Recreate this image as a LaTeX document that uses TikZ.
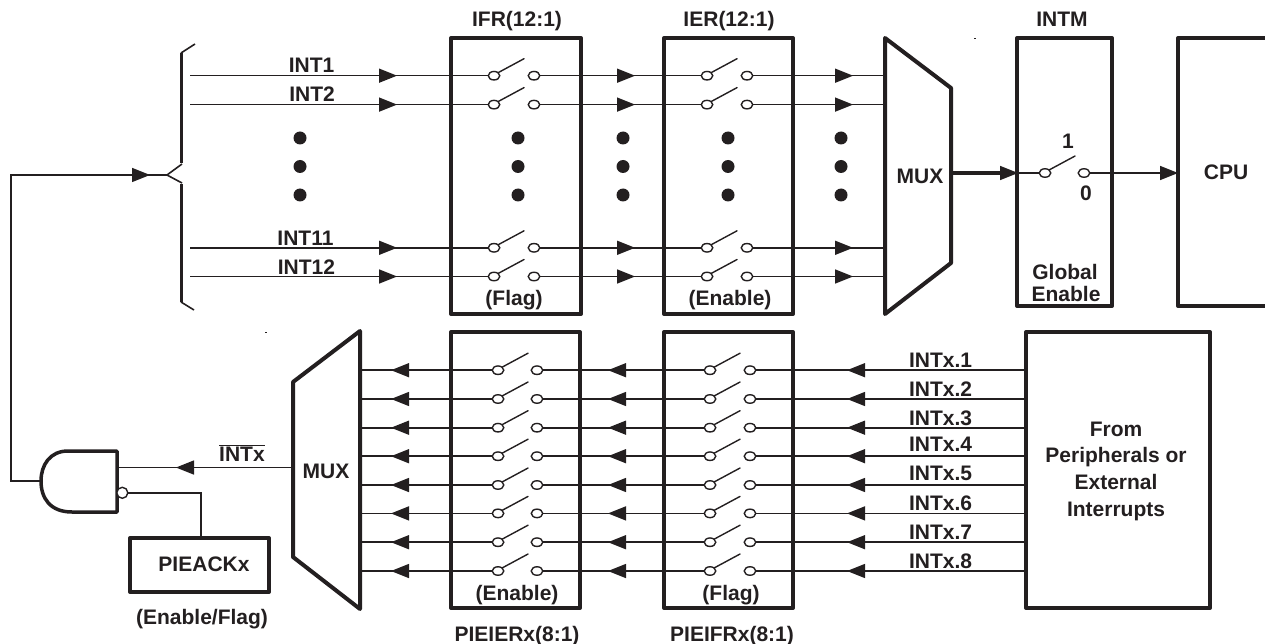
\documentclass[tikz,border=0pt]{standalone}
\usepackage{fontspec}
\setmainfont{Liberation Sans}
\usetikzlibrary{shapes.geometric}
\definecolor{ink}{HTML}{231F20}
\tikzset{
  lbl/.style={anchor=base,inner sep=0pt,outer sep=0pt,text=ink,font=\bfseries\fontsize{21}{24}\selectfont},
  boxnode/.style={draw=ink,line width=4pt,line join=round,inner sep=0pt,outer sep=0pt},
  heavy/.style={draw=ink,line width=4pt,line join=round},
  thinline/.style={draw=ink,line width=1.6pt},
  medline/.style={draw=ink,line width=3pt},
  contact/.style={ellipse,draw=ink,line width=1.4pt,fill=white,minimum width=11.5pt,minimum height=8.5pt,inner sep=0pt,outer sep=0pt},
  lever/.style={draw=ink,line width=1.4pt,line cap=round},
  dotmark/.style={circle,fill=ink,minimum size=13pt,inner sep=0pt,outer sep=0pt}
}
\newcommand{\tipright}[2]{\fill[ink] (#1,#2-7.2) -- (#1+18,#2) -- (#1,#2+7.2) -- cycle;}
\newcommand{\tipleft}[2]{\fill[ink] (#1+18,#2-7.2) -- (#1,#2) -- (#1+18,#2+7.2) -- cycle;}
\newcommand{\boxat}[5]{\node[boxnode,minimum width=#4-#2,minimum height=#5-#3,anchor=north west] (#1) at (#2,#3) {};}
\begin{document}
\begin{tikzpicture}[x=1pt,y=-1pt]
\useasboundingbox (0,0) rectangle (1265,644);
% === boxes ===
\boxat{ifr}{451}{38}{581}{314}
\boxat{ier}{664}{38}{793}{314}
\boxat{intm}{1017}{38}{1112}{306}
\boxat{pieier}{451}{332}{580}{608}
\boxat{pieifr}{664}{332}{793}{608}
\boxat{periph}{1026}{332}{1210}{608}
\boxat{pieack}{130}{538}{269}{592}
% CPU box runs off the right edge
\coordinate (cputl) at (1265,38);
\coordinate (cpubr) at (1265,306);
\coordinate (cpuin) at (1178,173);
\draw[heavy] (cputl) -- (1178,38) -- (1178,306) -- (cpubr);
% muxes
\draw[heavy] (885,38) -- (951,88) -- (951,263) -- (885,314) -- cycle;
\draw[heavy] (360,331) -- (293,382) -- (293,557) -- (360,609) -- cycle;
% === upper switch rows ===
\foreach \n/\y in {a/75.7,b/104.6,c/247.8,d/276.5}{
  \coordinate (us\n) at (190,\y);
  \coordinate (um\n) at (885,\y);
  \node[contact] (ul\n) at (494,\y) {};
  \node[contact] (ur\n) at (534,\y) {};
  \node[contact] (el\n) at (707,\y) {};
  \node[contact] (er\n) at (747,\y) {};
  \draw[thinline] (us\n) -- (ul\n.west);
  \draw[thinline] (ur\n.east) -- (el\n.west);
  \draw[thinline] (er\n.east) -- (um\n);
  \draw[lever] (ul\n.north east) -- ++(26,-14);
  \draw[lever] (el\n.north east) -- ++(26,-14);
  \tipright{379}{\y}
  \tipright{617}{\y}
  \tipright{835}{\y}
}
% === lower switch rows ===
\foreach \n/\y in {a/370.2,b/399,c/427.7,d/456.2,e/485,f/513.4,g/542.2,h/571}{
  \coordinate (ls\n) at (1026,\y);
  \coordinate (lm\n) at (360,\y);
  \node[contact] (fr\n) at (750,\y) {};
  \node[contact] (fl\n) at (710,\y) {};
  \node[contact] (pr\n) at (537,\y) {};
  \node[contact] (pl\n) at (498,\y) {};
  \draw[thinline] (ls\n) -- (fr\n.east);
  \draw[thinline] (fl\n.west) -- (pr\n.east);
  \draw[thinline] (pl\n.west) -- (lm\n);
  \draw[lever] (fl\n.north east) -- ++(26,-14);
  \draw[lever] (pl\n.north east) -- ++(26,-14);
  \tipleft{847}{\y}
  \tipleft{608}{\y}
  \tipleft{391}{\y}
}
% === ellipsis dots ===
\foreach \x [count=\i] in {300,518,623,728,841}{
  \node[dotmark] (dota\i) at (\x,138) {};
  \node[dotmark] (dotb\i) at (\x,166.5) {};
  \node[dotmark] (dotc\i) at (\x,195) {};
}
% === brace ===
\coordinate (bapex) at (167,175);
\coordinate (btop) at (181,53);
\coordinate (bbot) at (181,302);
\draw[medline] (btop) -- (181,163);
\draw[medline] (181,184) -- (bbot);
\draw[thinline] (btop) -- (195,44);
\draw[thinline] (bbot) -- (194,310);
\draw[thinline,line join=miter] (182,164) -- (bapex) -- (182,183);
% === INTM path ===
\coordinate (muxout) at (951,173);
\coordinate (intmin) at (1017,173);
\node[contact] (ml) at (1045,173) {};
\node[contact] (mr) at (1084,173) {};
\draw[draw=ink,line width=4.5pt] (muxout) -- (1003,173);
\draw[thinline] (intmin) -- (ml.west);
\draw[thinline] (mr.east) -- (cpuin);
\draw[lever] (ml.north east) -- ++(26,-14);
\tipright{1000}{173}
\tipright{1160}{173}
% === gate ===
\coordinate (gin) at (41,481);
\coordinate (gout) at (117,467.5);
\coordinate (muxin) at (293,467.5);
\draw[draw=ink,line width=3.5pt,line join=round] (117,451) -- (68,451) .. controls (50,451) and (41,465) .. (gin) .. controls (41,498) and (50,512) .. (72,512) -- (117,512) -- cycle;
\node[circle,draw=ink,line width=1.4pt,fill=white,minimum size=11pt,inner sep=0pt,outer sep=0pt] (bubble) at (122.3,492.8) {};
\draw[thinline] (gout) -- (muxin);
\tipleft{176}{467.5}
\draw[thinline] (bubble.east) -| (pieack.north -| 201,0);
\draw[thinline] (gin) -- ++(-30,0) |- (bapex);
\tipright{132}{175}
% stray specks
\fill[ink] (973.5,37.7) rectangle (976,39);
\fill[ink] (264.5,331.5) rectangle (267,332.8);
% === labels ===
\node[lbl] (t1) at (517,27) {IFR(12:1)};
\node[lbl] (t2) at (729,27) {IER(12:1)};
\node[lbl] (t3) at (1062,27) {INTM};
\node[lbl] (i1) at (311.5,73) {INT1};
\node[lbl] (i2) at (312,102) {INT2};
\node[lbl] (i11) at (305.5,245) {INT11};
\node[lbl] (i12) at (306.5,274) {INT12};
\node[lbl] (f1) at (514,305) {(Flag)};
\node[lbl] (e1) at (730,305) {(Enable)};
\node[lbl] (m1) at (920,184) {MUX};
\node[lbl] (one) at (1068,149) {1};
\node[lbl] (zero) at (1086,201) {0};
\node[lbl] (g1) at (1065,279) {Global};
\node[lbl] (g2) at (1066,301) {Enable};
\node[lbl] (cpu) at (1226,180) {CPU};
\node[lbl] (m2) at (326,478) {MUX};
\node[lbl] (ix) at (242,461) {$\overline{\mbox{INTx}}$};
\node[lbl] (pk) at (204,571) {PIEACKx};
\node[lbl] (ef) at (202,624) {(Enable/Flag)};
\node[lbl] (e2) at (517,600) {(Enable)};
\node[lbl] (f2) at (731,600) {(Flag)};
\node[lbl] (p1) at (517,641) {PIEIERx(8:1)};
\node[lbl] (p2) at (732,641) {PIEIFRx(8:1)};
\foreach \i/\y in {1/367,2/396,3/425,4/451,5/480,6/510,7/539,8/568}{
  \node[lbl,anchor=base west] (ix\i) at (909,\y) {INTx.\i};
}
\node[lbl] (fr1) at (1116,436) {From};
\node[lbl] (fr2) at (1116,462) {Peripherals or};
\node[lbl] (fr3) at (1116,489) {External};
\node[lbl] (fr4) at (1116,516) {Interrupts};
\end{tikzpicture}
\end{document}
